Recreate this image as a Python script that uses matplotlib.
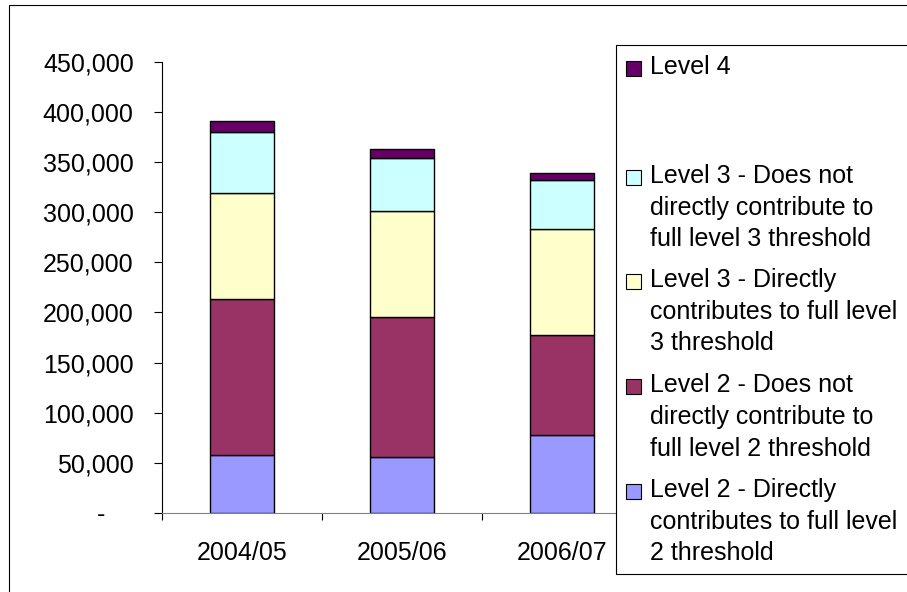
import matplotlib

matplotlib.use("Agg")
from matplotlib import pyplot as plt
from matplotlib.patches import Rectangle
from matplotlib.ticker import FixedLocator, FuncFormatter
from matplotlib.transforms import ScaledTranslation

plt.rcParams["font.family"] = ["Liberation Sans", "DejaVu Sans"]

years = ["2004/05", "2005/06", "2006/07"]
level2_direct = [57500, 55500, 77800]
level2_not_direct = [155900, 139900, 99700]
level3_direct = [105400, 105400, 105700]
level3_not_direct = [61400, 53400, 49100]
level4 = [11000, 9000, 7000]

series_labels = [
    "Level 2 - Directly\ncontributes to full level\n2 threshold",
    "Level 2 - Does not\ndirectly contribute to\nfull level 2 threshold",
    "Level 3 - Directly\ncontributes to full level\n3 threshold",
    "Level 3 - Does not\ndirectly contribute to\nfull level 3 threshold",
    "Level 4",
]
series_values = [level2_direct, level2_not_direct, level3_direct, level3_not_direct, level4]
series_colors = ["#9999FF", "#993366", "#FFFFCC", "#CCFFFF", "#660066"]

y_ticks = list(range(0, 450001, 50000))

W, H = 907, 592
DPI = 100
FS = 18

fig = plt.figure(figsize=(W / DPI, H / DPI), dpi=DPI)
fig.patch.set_facecolor("white")


def px(x, y):
    # pixel position (from top-left) to figure fraction
    return x / W, 1 - y / H


ax_left, ax_right, ax_top, ax_bottom = 161.7, 641.7, 61.7, 513.0
ax = fig.add_axes([ax_left / W, 1 - ax_bottom / H, (ax_right - ax_left) / W, (ax_bottom - ax_top) / H])

positions = list(range(len(years)))
bottoms = [0] * len(years)
for values, color in zip(series_values, series_colors):
    ax.bar(positions, values, width=0.4, bottom=bottoms, color=color,
           edgecolor="black", linewidth=1.0, zorder=3)
    bottoms = [b + v for b, v in zip(bottoms, values)]

ax.set_xlim(-0.5, len(years) - 0.5)
ax.set_ylim(0, 450000)

ax.set_yticks(y_ticks)
ax.yaxis.set_major_formatter(FuncFormatter(lambda v, _: "-" if v == 0 else f"{int(v):,}"))
ax.tick_params(axis="y", direction="out", length=5.8, width=0.8, pad=14.4,
               labelsize=FS, colors="black")

ax.set_xticks(positions)
ax.set_xticklabels(years)
ax.xaxis.set_minor_locator(FixedLocator([p - 0.5 for p in positions] + [len(years) - 0.5]))
ax.tick_params(axis="x", which="major", length=0, pad=20, labelsize=FS)
ax.tick_params(axis="x", which="minor", direction="out", length=5.0, width=0.8, color="black")

for side in ("top", "right"):
    ax.spines[side].set_visible(False)
ax.spines["left"].set_color("black")
ax.spines["left"].set_linewidth(0.8)
ax.spines["bottom"].set_color("#808080")
ax.spines["bottom"].set_linewidth(0.8)

# zero label sits further left, as with accounting number format
zero_tick = ax.yaxis.get_major_ticks()[0]
zero_tick.label1.set_transform(zero_tick.label1.get_transform()
                               + ScaledTranslation(-28 / DPI, 0, fig.dpi_scale_trans))

# chart area frame
x0, y0 = px(9, 5)
fig.add_artist(Rectangle((x0, -0.1), 1.2, y0 + 0.1, transform=fig.transFigure,
                         facecolor="none", edgecolor="black", linewidth=0.8, zorder=1))

# legend box
lx, ly_top = px(616, 45)
_, ly_bot = px(616, 574)
fig.add_artist(Rectangle((lx, ly_bot), 0.5, ly_top - ly_bot, transform=fig.transFigure,
                         facecolor="white", edgecolor="black", linewidth=0.8, zorder=5))

baselines = [497.5, 392.5, 287.5, 183.0, 74.5]
line_pitch = 31.5
for label, color, base in zip(series_labels, series_colors, baselines):
    sx, sy = px(625.5, base + 1.5)
    fig.add_artist(Rectangle((sx, sy), 15 / W, 15 / H, transform=fig.transFigure,
                             facecolor=color, edgecolor="black", linewidth=0.8, zorder=6))
    for i, line in enumerate(label.split("\n")):
        tx, ty = px(650, base + i * line_pitch)
        fig.text(tx, ty, line, fontsize=FS, ha="left", va="baseline", color="black", zorder=7)

fig.savefig("out.png", dpi=DPI)
